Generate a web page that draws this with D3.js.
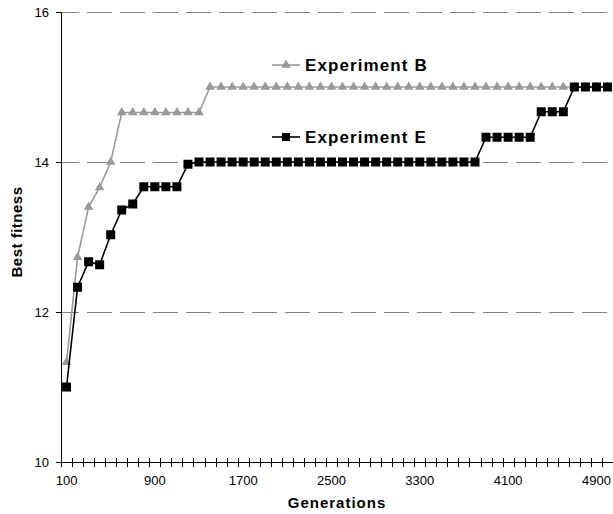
<!DOCTYPE html>
<html>
<head>
<meta charset="utf-8">
<script src="https://cdn.jsdelivr.net/npm/d3@7"></script>
<style>
body { margin:0; background:#fff; }
svg text { font-family: "Liberation Sans", Arial, sans-serif; }
</style>
</head>
<body>
<div id="chart"></div>
<script>
// generations (categories)
var generations = [100,200,300,400,500,600,700,800,900,1000,
	1100,1200,1300,1400,1500,1600,1700,1800,1900,2000,
	2100,2200,2300,2400,2500,2600,2700,2800,2900,3000,
	3100,3200,3300,3400,3500,3600,3700,3800,3900,4000,
	4100,4200,4300,4400,4500,4600,4700,4800,4900,5000];

// Experiment B (grey triangles)
var expB = [11.33,12.73,13.4,13.66,14.0,14.66,14.66,14.66,14.66,14.66,
	14.66,14.66,14.66,15,15,15,15,15,15,15,
	15,15,15,15,15,15,15,15,15,15,
	15,15,15,15,15,15,15,15,15,15,
	15,15,15,15,15,15,15,15,15,15];

// Experiment E (black squares)
var expE = [11.0,12.33,12.67,12.63,13.03,13.36,13.44,13.67,13.67,13.67,
	13.67,13.97,14,14,14,14,14,14,14,14,
	14,14,14,14,14,14,14,14,14,14,
	14,14,14,14,14,14,14,14,14.33,14.33,
	14.33,14.33,14.33,14.67,14.67,14.67,15,15,15,15];

var xLabels = [100,900,1700,2500,3300,4100,4900];
var yTicks = [10,12,14,16];

var width = 613, height = 514;
var plotLeft = 61, plotRight = 613, plotTop = 12, plotBottom = 462;

var svg = d3.select("#chart").append("svg")
	.attr("width", width).attr("height", height);

var x = d3.scaleBand().domain(generations).range([plotLeft, plotRight]).padding(0);
var y = d3.scaleLinear().domain([10, 16]).range([plotBottom, plotTop]);

// dashed grid lines
svg.selectAll("line.grid")
	.data(yTicks.filter(function(d) { return d > 10; }))
	.enter().append("line")
	.attr("class", "grid")
	.attr("x1", plotLeft).attr("x2", plotRight)
	.attr("y1", function(d) { return y(d) + 0.5; })
	.attr("y2", function(d) { return y(d) + 0.5; })
	.attr("stroke", "#808080")
	.attr("stroke-width", 1)
	.attr("stroke-dasharray", "25,8")
	.attr("stroke-dashoffset", 7);

// y axis
var yAxis = svg.append("g")
	.attr("transform", "translate(" + plotLeft + ",0)")
	.call(d3.axisLeft(y).tickValues(yTicks).tickSize(5).tickPadding(7).tickFormat(d3.format("d")));
yAxis.select(".domain").attr("stroke", "#000");
yAxis.selectAll(".tick line").attr("stroke", "#000");
yAxis.selectAll("text").attr("font-size", "13px").attr("fill", "#000");

// x axis
var xAxis = svg.append("g")
	.attr("transform", "translate(0," + plotBottom + ")")
	.call(d3.axisBottom(x).tickValues(xLabels).tickSize(0).tickPadding(14));
xAxis.select(".domain").attr("stroke", "#000");
xAxis.selectAll("text").attr("font-size", "13px").attr("fill", "#000");

// category boundary ticks crossing the axis
svg.append("g").selectAll("line")
	.data(generations)
	.enter().append("line")
	.attr("x1", function(d) { return Math.round(x(d)) + 0.5; })
	.attr("x2", function(d) { return Math.round(x(d)) + 0.5; })
	.attr("y1", plotBottom - 4).attr("y2", plotBottom + 5)
	.attr("stroke", "#000");

var cx = function(d, i) { return x(generations[i]) + x.bandwidth() / 2; };

var line = d3.line()
	.x(function(d, i) { return cx(d, i); })
	.y(function(d) { return y(d); });

// Experiment B
svg.append("path")
	.datum(expB)
	.attr("d", line)
	.attr("fill", "none")
	.attr("stroke", "#999")
	.attr("stroke-width", 1.6);

var tri = d3.symbol().type(d3.symbolTriangle).size(40);
svg.selectAll("path.tri")
	.data(expB)
	.enter().append("path")
	.attr("class", "tri")
	.attr("d", tri)
	.attr("fill", "#999")
	.attr("transform", function(d, i) { return "translate(" + cx(d, i) + "," + y(d) + ")"; });

// Experiment E
svg.append("path")
	.datum(expE)
	.attr("d", line)
	.attr("fill", "none")
	.attr("stroke", "#000")
	.attr("stroke-width", 1.6);

var sq = 9;
svg.selectAll("rect.sq")
	.data(expE)
	.enter().append("rect")
	.attr("class", "sq")
	.attr("x", function(d, i) { return cx(d, i) - sq / 2; })
	.attr("y", function(d) { return y(d) - sq / 2; })
	.attr("width", sq).attr("height", sq)
	.attr("fill", "#000");

// legend
var legend = svg.append("g");
legend.append("line")
	.attr("x1", 272).attr("x2", 300).attr("y1", 65).attr("y2", 65)
	.attr("stroke", "#999").attr("stroke-width", 1.6);
legend.append("path")
	.attr("d", tri)
	.attr("fill", "#999")
	.attr("transform", "translate(286,65)");
legend.append("text")
	.attr("x", 305).attr("y", 71)
	.attr("font-size", "17px").attr("font-weight", "bold")
	.attr("letter-spacing", "1.1px")
	.text("Experiment B");

legend.append("line")
	.attr("x1", 272).attr("x2", 300).attr("y1", 137).attr("y2", 137)
	.attr("stroke", "#000").attr("stroke-width", 1.6);
legend.append("rect")
	.attr("x", 282).attr("y", 133).attr("width", 8).attr("height", 8)
	.attr("fill", "#000");
legend.append("text")
	.attr("x", 305).attr("y", 143)
	.attr("font-size", "17px").attr("font-weight", "bold")
	.attr("letter-spacing", "1.1px")
	.text("Experiment E");

// axis titles
svg.append("text")
	.attr("x", (plotLeft + plotRight) / 2).attr("y", 508)
	.attr("text-anchor", "middle")
	.attr("font-size", "15px").attr("font-weight", "bold")
	.attr("letter-spacing", "1px")
	.text("Generations");

svg.append("text")
	.attr("transform", "translate(22,232) rotate(-90)")
	.attr("text-anchor", "middle")
	.attr("font-size", "15px").attr("font-weight", "bold")
	.attr("letter-spacing", "0.5px")
	.text("Best fitness");
</script>
</body>
</html>
